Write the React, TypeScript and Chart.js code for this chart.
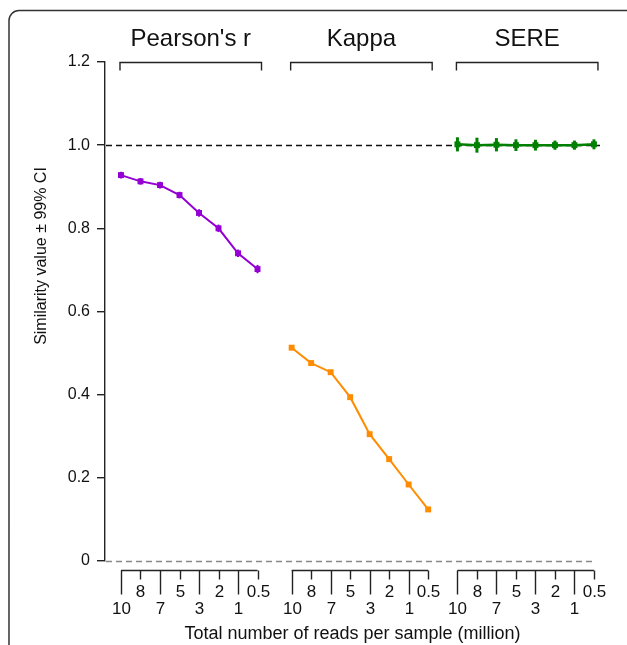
import React, { useEffect, useRef } from "react";
import { Chart, registerables } from "chart.js";
Chart.register(...registerables);

// ---- data ----
const readCounts = ["10", "8", "7", "5", "3", "2", "1", "0.5"];
const groupNames = ["Pearson's r", "Kappa", "SERE"];
const pearsonValues = [0.928, 0.913, 0.904, 0.88, 0.837, 0.8, 0.74, 0.702];
const pearsonCI = [0.008, 0.008, 0.008, 0.008, 0.009, 0.009, 0.009, 0.01];
const kappaValues = [0.513, 0.476, 0.454, 0.394, 0.305, 0.245, 0.184, 0.124];
const kappaCI = [0.003, 0.003, 0.003, 0.003, 0.003, 0.003, 0.004, 0.006];
const sereValues = [1.002, 1.0, 1.001, 1.0, 1.0, 1.0, 1.0, 1.002];
const sereCI = [0.017, 0.018, 0.016, 0.014, 0.013, 0.011, 0.011, 0.012];
const yTicks = [0, 0.2, 0.4, 0.6, 0.8, 1.0, 1.2];
const referenceValue = 1.0;
const xTitle = "Total number of reads per sample (million)";
const yTitle = "Similarity value \u00b1 99% CI";

// ---- layout / style ----
const groupStart = [0, 8.75, 17.25];
const colors = ["#9400D3", "#FF8C00", "#008000"];
const FONT = "'Liberation Sans', Arial, Helvetica, sans-serif";

const seriesValues = [pearsonValues, kappaValues, sereValues];
const seriesCI = [pearsonCI, kappaCI, sereCI];

const decor = {
  id: "decor",
  beforeDraw(chart: any) {
    const { ctx } = chart;
    ctx.save();
    ctx.fillStyle = "#ffffff";
    ctx.fillRect(0, 0, chart.width, chart.height);
    ctx.strokeStyle = "#333333";
    ctx.lineWidth = 1.5;
    ctx.beginPath();
    (ctx as any).roundRect(9, 10.5, 660, 720, 10);
    ctx.stroke();
    ctx.restore();
  },
  beforeDatasetsDraw(chart: any) {
    const { ctx, chartArea: ca, scales } = chart;
    const y = scales.y;
    ctx.save();
    ctx.setLineDash([6, 4]);
    ctx.lineWidth = 1.4;
    ctx.strokeStyle = "#111111";
    const y1 = Math.round(y.getPixelForValue(referenceValue)) + 0.5;
    ctx.beginPath();
    ctx.moveTo(ca.left + 1, y1);
    ctx.lineTo(ca.right, y1);
    ctx.stroke();
    ctx.strokeStyle = "#888888";
    const y0 = Math.round(y.getPixelForValue(0)) + 0.5;
    ctx.beginPath();
    ctx.moveTo(ca.left + 1, y0);
    ctx.lineTo(ca.right - 4, y0);
    ctx.stroke();
    ctx.restore();
  },
  afterDatasetsDraw(chart: any) {
    const { ctx, scales } = chart;
    const { x, y } = scales;
    ctx.save();
    seriesValues.forEach((vals, g) => {
      ctx.strokeStyle = colors[g];
      ctx.lineWidth = g === 2 ? 3 : 2;
      vals.forEach((v, i) => {
        const px = x.getPixelForValue(groupStart[g] + i);
        const ci = seriesCI[g][i];
        ctx.beginPath();
        ctx.moveTo(px, y.getPixelForValue(v - ci));
        ctx.lineTo(px, y.getPixelForValue(v + ci));
        ctx.stroke();
      });
    });
    ctx.restore();
  },
  afterDraw(chart: any) {
    const { ctx, chartArea: ca, scales } = chart;
    const { x, y } = scales;
    ctx.save();
    ctx.strokeStyle = "#222222";
    ctx.fillStyle = "#111111";
    ctx.lineWidth = 1.4;
    const topY = Math.round(y.getPixelForValue(1.2)) + 0.5;
    const axisY = Math.round(y.getPixelForValue(0)) + 9.5;
    groupNames.forEach((name, g) => {
      const p0 = x.getPixelForValue(groupStart[g]);
      const p7 = x.getPixelForValue(groupStart[g] + readCounts.length - 1);
      // bracket
      const bl = p0 - 1;
      const br = p7 + 4;
      ctx.beginPath();
      ctx.moveTo(bl, topY + 8);
      ctx.lineTo(bl, topY);
      ctx.lineTo(br, topY);
      ctx.lineTo(br, topY + 8);
      ctx.stroke();
      ctx.font = `24px ${FONT}`;
      ctx.textAlign = "center";
      ctx.textBaseline = "alphabetic";
      ctx.fillText(name, (bl + br) / 2, 46);
      // x axis
      ctx.beginPath();
      ctx.moveTo(p0, axisY);
      ctx.lineTo(p7, axisY);
      ctx.stroke();
      ctx.font = `17px ${FONT}`;
      ctx.textBaseline = "middle";
      readCounts.forEach((lab, i) => {
        const px = Math.round(x.getPixelForValue(groupStart[g] + i)) + 0.5;
        const long = i % 2 === 0;
        ctx.beginPath();
        ctx.moveTo(px, axisY);
        ctx.lineTo(px, axisY + (long ? 24 : 9));
        ctx.stroke();
        ctx.fillText(lab, px, long ? axisY + 39 : axisY + 22);
      });
    });
    // axis titles
    ctx.font = `18px ${FONT}`;
    ctx.textAlign = "center";
    ctx.textBaseline = "middle";
    ctx.fillText(xTitle, (ca.left + ca.right) / 2, 634);
    ctx.save();
    ctx.translate(42, 256);
    ctx.rotate(-Math.PI / 2);
    ctx.font = `16px ${FONT}`;
    ctx.fillText(yTitle, 0, 0);
    ctx.restore();
    ctx.restore();
  },
};

export default function App() {
  const ref = useRef<HTMLCanvasElement | null>(null);
  useEffect(() => {
    if (!ref.current) return;
    const datasets = seriesValues.map((vals, g) => ({
      label: groupNames[g],
      data: vals.map((v, i) => ({ x: groupStart[g] + i, y: v })),
      borderColor: colors[g],
      backgroundColor: colors[g],
      borderWidth: g === 2 ? 2.5 : 2,
      pointStyle: "rect" as const,
      pointRadius: 4.2,
      pointBorderWidth: 0,
      pointBackgroundColor: colors[g],
      tension: 0,
    }));
    const chart = new Chart(ref.current, {
      type: "line",
      data: { datasets },
      options: {
        animation: false,
        responsive: false,
        maintainAspectRatio: false,
        layout: { padding: { left: 0, top: 62, right: 27, bottom: 84 } },
        plugins: { legend: { display: false }, tooltip: { enabled: false } },
        scales: {
          x: { type: "linear", display: false, min: -0.82, max: 24.56 },
          y: {
            type: "linear",
            min: 0,
            max: 1.2,
            afterFit(s: any) {
              s.width = 105;
            },
            afterBuildTicks(s: any) {
              s.ticks = yTicks.map((v) => ({ value: v }));
            },
            ticks: {
              font: { size: 16, family: FONT },
              color: "#111111",
              padding: 7,
              callback: (v: any) => (Number(v) === 0 ? "0" : Number(v).toFixed(1)),
            },
            grid: {
              drawOnChartArea: false,
              drawTicks: true,
              tickLength: 8,
              color: "#222222",
              lineWidth: 1.4,
            },
            border: { display: true, color: "#222222", width: 1.4 },
          },
        },
      },
      plugins: [decor],
    });
    return () => chart.destroy();
  }, []);
  return (
    <div style={{ position: "fixed", left: 0, top: 0, width: 627, height: 645 }}>
      <canvas ref={ref} width={627} height={645} style={{ width: 627, height: 645, display: "block" }} />
    </div>
  );
}
